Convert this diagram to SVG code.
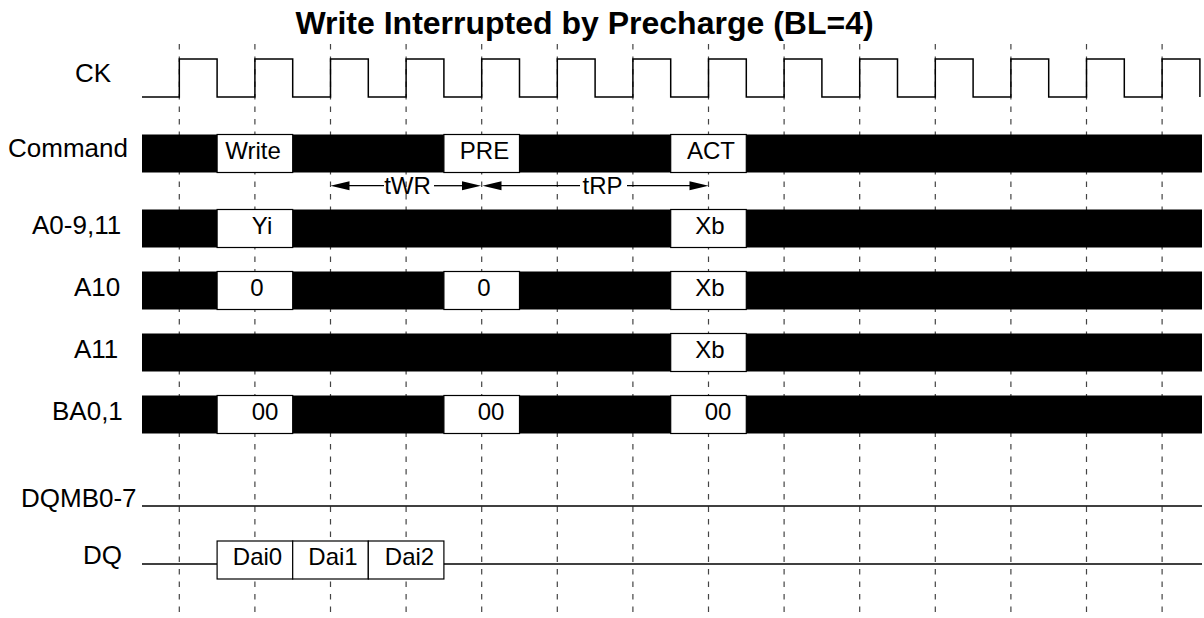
<svg xmlns="http://www.w3.org/2000/svg" width="1204" height="618" viewBox="0 0 1204 618">
<style>
text{font-family:"Liberation Sans",Arial,sans-serif;fill:#000}
.title{font-size:32px;font-weight:bold;text-anchor:middle}
.lbl{font-size:26px}
.bt{font-size:24px;text-anchor:middle}
.grid line{stroke:#444;stroke-width:1.2;stroke-dasharray:5.5 7}
.bar{fill:#000}
.box{fill:#fff;stroke:#000;stroke-width:1.2}
.sig{fill:none;stroke:#000;stroke-width:1.5}
.dim{stroke:#000;stroke-width:1.3;fill:none}
.ah{fill:#000}
</style>
<rect width="1204" height="618" fill="#fff"/>
<text class="title" x="584.5" y="34">Write Interrupted by Precharge (BL=4)</text>
<g id="grid" class="grid">
<line x1="179.3" y1="44" x2="179.3" y2="614"/>
<line x1="254.9" y1="44" x2="254.9" y2="614"/>
<line x1="330.5" y1="44" x2="330.5" y2="614"/>
<line x1="406.1" y1="44" x2="406.1" y2="614"/>
<line x1="481.7" y1="44" x2="481.7" y2="614"/>
<line x1="557.3" y1="44" x2="557.3" y2="614"/>
<line x1="632.9" y1="44" x2="632.9" y2="614"/>
<line x1="708.5" y1="44" x2="708.5" y2="614"/>
<line x1="784.1" y1="44" x2="784.1" y2="614"/>
<line x1="859.7" y1="44" x2="859.7" y2="614"/>
<line x1="935.3" y1="44" x2="935.3" y2="614"/>
<line x1="1010.9" y1="44" x2="1010.9" y2="614"/>
<line x1="1086.5" y1="44" x2="1086.5" y2="614"/>
<line x1="1162.1" y1="44" x2="1162.1" y2="614"/>
</g>
<g id="ck">
<text class="lbl" x="75" y="82">CK</text>
<path class="sig" d="M142 97 H179.3 V59 H217.1 V97 H254.9 V59 H292.7 V97 H330.5 V59 H368.3 V97 H406.1 V59 H443.9 V97 H481.7 V59 H519.5 V97 H557.3 V59 H595.1 V97 H632.9 V59 H670.7 V97 H708.5 V59 H746.3 V97 H784.1 V59 H821.9 V97 H859.7 V59 H897.5 V97 H935.3 V59 H973.1 V97 H1010.9 V59 H1048.7 V97 H1086.5 V59 H1124.3 V97 H1162.1 V59 H1199.9 V97"/>
</g>
<g id="command">
<text class="lbl" x="8" y="157">Command</text>
<rect class="bar" x="142" y="134.5" width="1060" height="38"/>
<rect class="box" x="217.1" y="134.5" width="75.6" height="38"/>
<text class="bt" x="253" y="158.5">Write</text>
<rect class="box" x="443.9" y="134.5" width="75.6" height="38"/>
<text class="bt" x="484.5" y="158.5">PRE</text>
<rect class="box" x="670.7" y="134.5" width="75.6" height="38"/>
<text class="bt" x="711" y="158.5">ACT</text>
</g>
<g id="a0-9-11">
<text class="lbl" x="32" y="233.5">A0-9,11</text>
<rect class="bar" x="142" y="209.5" width="1060" height="38"/>
<rect class="box" x="217.1" y="209.5" width="75.6" height="38"/>
<text class="bt" x="262" y="233.5">Yi</text>
<rect class="box" x="670.7" y="209.5" width="75.6" height="38"/>
<text class="bt" x="710" y="233.5">Xb</text>
</g>
<g id="a10">
<text class="lbl" x="74" y="295.5">A10</text>
<rect class="bar" x="142" y="271.5" width="1060" height="38"/>
<rect class="box" x="217.1" y="271.5" width="75.6" height="38"/>
<text class="bt" x="257" y="295.5">0</text>
<rect class="box" x="443.9" y="271.5" width="75.6" height="38"/>
<text class="bt" x="484" y="295.5">0</text>
<rect class="box" x="670.7" y="271.5" width="75.6" height="38"/>
<text class="bt" x="710" y="295.5">Xb</text>
</g>
<g id="a11">
<text class="lbl" x="74" y="357.5">A11</text>
<rect class="bar" x="142" y="333.5" width="1060" height="38"/>
<rect class="box" x="670.7" y="333.5" width="75.6" height="38"/>
<text class="bt" x="710" y="357.5">Xb</text>
</g>
<g id="ba0-1">
<text class="lbl" x="52" y="419.5">BA0,1</text>
<rect class="bar" x="142" y="395.5" width="1060" height="38"/>
<rect class="box" x="217.1" y="395.5" width="75.6" height="38"/>
<text class="bt" x="265" y="419.5">00</text>
<rect class="box" x="443.9" y="395.5" width="75.6" height="38"/>
<text class="bt" x="491" y="419.5">00</text>
<rect class="box" x="670.7" y="395.5" width="75.6" height="38"/>
<text class="bt" x="718" y="419.5">00</text>
</g>
<g id="dqmb0-7">
<text class="lbl" x="21" y="507">DQMB0-7</text>
<line class="sig" x1="142" y1="506" x2="1202" y2="506"/>
</g>
<g id="dq">
<text class="lbl" x="83" y="564">DQ</text>
<line class="sig" x1="142" y1="564" x2="217.1" y2="564"/>
<rect class="box" x="217.1" y="541" width="75.6" height="38"/>
<rect class="box" x="292.7" y="541" width="75.6" height="38"/>
<rect class="box" x="368.3" y="541" width="75.6" height="38"/>
<text class="bt" x="257.5" y="565">Dai0</text>
<text class="bt" x="333" y="565">Dai1</text>
<text class="bt" x="409.5" y="565">Dai2</text>
<line class="sig" x1="443.9" y1="564" x2="1202" y2="564"/>
</g>
<g id="connectors">
<g id="tWR">
<polygon class="ah" points="330.5,185.7 349.5,181.2 349.5,190.2"/>
<line class="dim" x1="349" y1="185.7" x2="384" y2="185.7"/>
<text class="bt" x="407.5" y="194">tWR</text>
<line class="dim" x1="434" y1="185.7" x2="463" y2="185.7"/>
<polygon class="ah" points="481,185.7 462,181.2 462,190.2"/>
</g>
<g id="tRP">
<polygon class="ah" points="482.5,185.7 501.5,181.2 501.5,190.2"/>
<line class="dim" x1="501" y1="185.7" x2="580" y2="185.7"/>
<text class="bt" x="602.5" y="194">tRP</text>
<line class="dim" x1="627" y1="185.7" x2="690" y2="185.7"/>
<polygon class="ah" points="708.5,185.7 689.5,181.2 689.5,190.2"/>
</g>
</g>
</svg>
